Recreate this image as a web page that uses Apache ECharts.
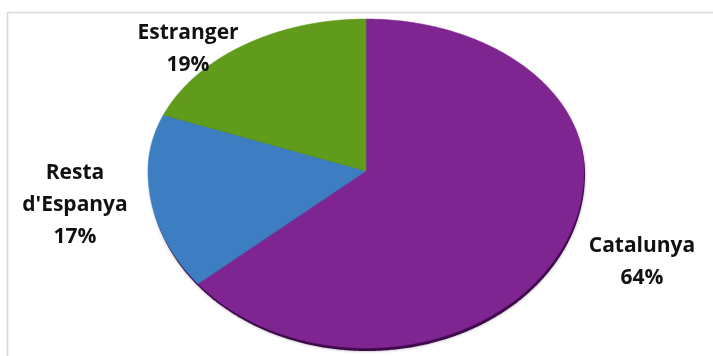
<!DOCTYPE html>
<html>
<head>
<meta charset="utf-8">
<script src="https://cdn.jsdelivr.net/npm/echarts@6/dist/echarts.min.js"></script>
<style>
html,body{margin:0;padding:0;background:#fff;}
#chart{width:713px;height:356px;}
</style>
</head>
<body>
<div id="chart"></div>
<script>
// ---- data ----
const categories = ['Catalunya', "Resta d'Espanya", 'Estranger'];
const values = [64, 17, 19];
const labelNames = ['Catalunya', "Resta\nd'Espanya", 'Estranger'];

// ---- styling / layout ----
const colors = ['#7f2592', '#3d7ec3', '#609b1c'];
const geo = { cx: 366, cy: 171, rx: 218, ryTop: 152, ryBottom: 177 };
const labelPos = [[642, 262], [75, 205], [188, 49]];

const total = values.reduce((a, b) => a + b, 0);

function ellipsePoint(theta) {
  const s = Math.sin(theta), c = Math.cos(theta);
  const ry = c > 0 ? geo.ryTop : geo.ryBottom;
  return [geo.cx + geo.rx * s, geo.cy - ry * c];
}
function slicePoints(a0, a1) {
  const pts = [[geo.cx, geo.cy]];
  const n = Math.max(2, Math.ceil((a1 - a0) / (Math.PI / 360)));
  for (let k = 0; k <= n; k++) pts.push(ellipsePoint(a0 + (a1 - a0) * k / n));
  return pts;
}

const chart = echarts.init(document.getElementById('chart'), null, { renderer: 'canvas' });

chart.setOption({
  backgroundColor: '#ffffff',
  animation: false,
  graphic: [{
    type: 'rect', silent: true, z: -10,
    shape: { x: 7.5, y: 12.5, width: 720, height: 360 },
    style: { fill: 'none', stroke: '#d9d9d9', lineWidth: 1.6 }
  }],
  series: [{
    type: 'custom',
    coordinateSystem: 'none',
    data: values.map((v, i) => ({ name: categories[i], value: [v] })),
    renderItem: function (params, api) {
      const i = params.dataIndex;
      let before = 0;
      for (let k = 0; k < i; k++) before += values[k];
      const v = api.value(0);
      const a0 = before / total * Math.PI * 2;
      const a1 = (before + v) / total * Math.PI * 2;
      const children = [];
      if (i === 0) {
        // dark rim beneath the whole pie
        const full = [];
        for (let k = 0; k <= 720; k++) {
          const p = ellipsePoint(k / 720 * Math.PI * 2);
          full.push([p[0] + 1, p[1] + 3]);
        }
        children.push({
          type: 'polygon', shape: { points: full },
          style: { fill: '#3e0a4c', shadowBlur: 3, shadowColor: 'rgba(40,0,50,0.4)' }
        });
      }
      children.push({
        type: 'polygon',
        shape: { points: slicePoints(a0, a1) },
        style: { fill: colors[i], stroke: colors[i], lineWidth: 0.5 }
      });
      children.push({
        type: 'text', z2: 100,
        x: labelPos[i][0], y: labelPos[i][1],
        style: {
          text: labelNames[i] + '\n' + Math.round(v / total * 100) + '%',
          font: 'bold 21px "Open Sans", sans-serif',
          lineHeight: 32,
          fill: '#111111',
          align: 'center',
          verticalAlign: 'middle'
        }
      });
      return { type: 'group', children: children };
    }
  }]
});
</script>
</body>
</html>
